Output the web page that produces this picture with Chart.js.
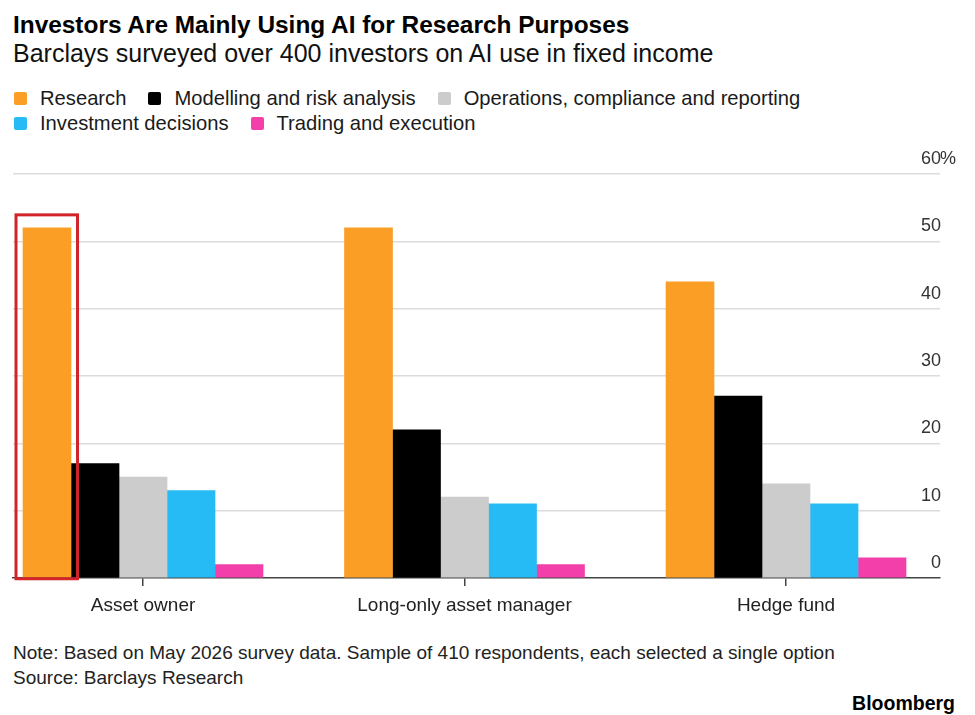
<!DOCTYPE html>
<html lang="en">
<head>
    <meta charset="UTF-8">
    <script src="https://cdn.jsdelivr.net/npm/chart.js"></script>
    <title>Investors Are Mainly Using AI for Research Purposes</title>
    <style>
        body { margin: 0; background: #fff; font-family: "Liberation Sans", Arial, sans-serif; color: #111; }
        .page { position: relative; width: 975px; height: 715px; overflow: hidden; }
        .txt { position: absolute; left: 13px; line-height: 1; white-space: nowrap; }
        #title { top: 13px; font-size: 24.4px; font-weight: bold; color: #000; }
        #subtitle { top: 41px; font-size: 25px; color: #111; }
        #legend { position: absolute; left: 14px; top: 88px; width: 940px; display: flex; flex-wrap: wrap; row-gap: 5px; }
        .item { display: flex; align-items: center; margin-right: 22px; font-size: 20.2px; line-height: 20px; color: #1a1a1a; }
        .box { width: 13px; height: 13px; border-radius: 2px; margin-right: 13px; }
        .chart-wrap { position: absolute; left: 0; top: 140px; width: 975px; height: 490px; }
        #note { top: 643px; font-size: 19px; color: #222; }
        #source { top: 668px; font-size: 19px; color: #222; }
        #brand { position: absolute; right: 20px; top: 694px; font-size: 19.5px; font-weight: bold; line-height: 1; color: #000; }
    </style>
</head>
<body>
<div class="page">
    <div class="txt" id="title">Investors Are Mainly Using AI for Research Purposes</div>
    <div class="txt" id="subtitle">Barclays surveyed over 400 investors on AI use in fixed income</div>
    <div id="legend"></div>
    <div class="chart-wrap"><canvas id="aiChart"></canvas></div>
    <div class="txt" id="note">Note: Based on May 2026 survey data. Sample of 410 respondents, each selected a single option</div>
    <div class="txt" id="source">Source: Barclays Research</div>
    <div id="brand">Bloomberg</div>
</div>

<script>
    // investor types (x axis)
    const categories = ['Asset owner', 'Long-only asset manager', 'Hedge fund'];

    // share of respondents, %
    const seriesNames = ['Research', 'Modelling and risk analysis', 'Operations, compliance and reporting',
        'Investment decisions', 'Trading and execution'];
    const research = [52, 52, 44];
    const modelling = [17, 22, 27];
    const operations = [15, 12, 14];
    const investment = [13, 11, 11];
    const trading = [2, 2, 3];
    const seriesColors = ['#fa9e26', '#000000', '#cccccc', '#27bbf5', '#f33fa9'];

    const yTicks = [0, 10, 20, 30, 40, 50, 60];

    const allSeries = [research, modelling, operations, investment, trading];

    // legend in html so it wraps like the original
    const legend = document.getElementById('legend');
    seriesNames.forEach((name, i) => {
        const item = document.createElement('div');
        item.className = 'item';
        item.innerHTML = '<span class="box" style="background:' + seriesColors[i] + '"></span>' + name;
        legend.appendChild(item);
    });

    const tickFont = { family: '"Liberation Sans", Arial, sans-serif', size: 18 };

    // "%" sits to the right of the top tick label
    const percentSign = {
        id: 'percentSign',
        afterDraw(chart) {
            const y = chart.scales.y;
            const ctx = chart.ctx;
            ctx.save();
            ctx.font = tickFont.size + 'px ' + tickFont.family;
            ctx.fillStyle = '#333';
            ctx.textAlign = 'left';
            ctx.textBaseline = 'middle';
            ctx.fillText('%', chart.chartArea.right, y.getPixelForValue(60) - 15);
            ctx.restore();
        }
    };

    // red box round the first research bar
    const highlight = {
        id: 'highlight',
        afterDatasetsDraw(chart) {
            const bar = chart.getDatasetMeta(0).data[0];
            const ctx = chart.ctx;
            const left = bar.x - bar.width / 2 - 7;
            const right = bar.x + bar.width / 2 + 6.5;
            const top = bar.y - 13;
            const bottom = bar.base + 1.5;
            ctx.save();
            ctx.strokeStyle = '#d2232a';
            ctx.lineWidth = 3;
            ctx.strokeRect(left, top, right - left, bottom - top);
            ctx.restore();
        }
    };

    new Chart(document.getElementById('aiChart'), {
        type: 'bar',
        data: {
            datasets: allSeries.map((vals, i) => ({
                label: seriesNames[i],
                data: vals.map((v, j) => ({ x: j, y: v })),
                backgroundColor: seriesColors[i],
                borderWidth: 0,
                barThickness: 48
            }))
        },
        options: {
            responsive: true,
            maintainAspectRatio: false,
            animation: false,
            layout: { padding: { left: 13, right: 35, top: 34, bottom: 0 } },
            plugins: {
                legend: { display: false },
                tooltip: { enabled: false }
            },
            scales: {
                x: {
                    type: 'linear',
                    offset: false,
                    min: -0.4044,
                    max: 2.479,
                    afterBuildTicks: s => { s.ticks = categories.map((c, i) => ({ value: i })); },
                    afterFit: s => { s.height = 52; },
                    grid: { offset: false, drawOnChartArea: false, drawTicks: true, tickLength: 8, color: '#444', lineWidth: 1.5 },
                    border: { display: true, color: '#444', width: 1.5 },
                    ticks: {
                        callback: v => categories[v],
                        font: { family: tickFont.family, size: 19 },
                        color: '#222',
                        padding: 8,
                        maxRotation: 0,
                        autoSkip: false
                    }
                },
                y: {
                    position: 'right',
                    min: 0,
                    max: 60,
                    afterBuildTicks: s => { s.ticks = yTicks.map(v => ({ value: v })); },
                    afterFit: s => { s.width = 0; },
                    grid: {
                        drawTicks: false,
                        color: c => (c.tick && c.tick.value === 0) ? 'rgba(0,0,0,0)' : '#dcdcdc',
                        lineWidth: 1.5
                    },
                    border: { display: false },
                    ticks: {
                        mirror: true,
                        padding: 1,
                        labelOffset: -15,
                        font: tickFont,
                        color: '#333'
                    }
                }
            }
        },
        plugins: [percentSign, highlight]
    });
</script>
</body>
</html>
